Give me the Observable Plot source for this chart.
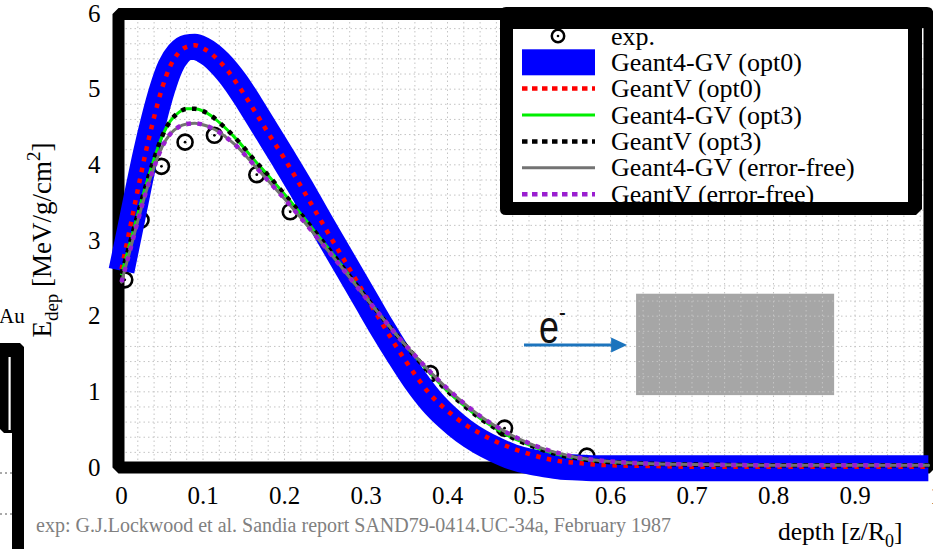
<!DOCTYPE html>
<html><head><meta charset="utf-8">
<script src="https://cdn.jsdelivr.net/npm/d3@7"></script>
<script src="https://cdn.jsdelivr.net/npm/@observablehq/plot@0.6"></script>
<style>
html,body{margin:0;padding:0;background:#fff;}
#chart{position:relative;width:933px;height:549px;overflow:hidden;}
</style></head><body><div id="chart"></div>
<script>
// ---- data ----
const depth = [0,0.01,0.02,0.03,0.04,0.05,0.06,0.07,0.08,0.09,0.10,0.11,0.12,0.13,0.14,0.15,0.16,0.18,0.20,0.22,0.24,0.26,0.28,0.30,0.32,0.34,0.36,0.38,0.40,0.42,0.44,0.46,0.48,0.50,0.52,0.54,0.56,0.58,0.60,0.65,0.70,0.80,0.90,0.99];
const g4gvOpt0 = [2.60,3.12,3.65,4.16,4.61,5.00,5.30,5.47,5.55,5.56,5.52,5.45,5.35,5.23,5.09,4.93,4.76,4.41,4.06,3.70,3.32,2.95,2.58,2.21,1.84,1.49,1.16,0.88,0.66,0.48,0.34,0.23,0.14,0.08,0.04,0.01,0.00,-0.01,-0.01,-0.01,-0.01,-0.01,-0.01,-0.01];
const gvOpt0   = [2.62,3.14,3.67,4.18,4.63,5.02,5.31,5.48,5.56,5.58,5.54,5.47,5.37,5.25,5.10,4.94,4.77,4.42,4.08,3.72,3.35,2.98,2.62,2.26,1.90,1.55,1.23,0.95,0.75,0.58,0.45,0.34,0.25,0.18,0.12,0.08,0.06,0.04,0.03,0.02,0.01,0.01,0.01,0.01];
const g4gvOpt3 = [2.56,2.95,3.35,3.73,4.08,4.38,4.58,4.69,4.74,4.74,4.71,4.65,4.56,4.46,4.35,4.23,4.10,3.86,3.61,3.35,3.08,2.81,2.53,2.25,1.98,1.72,1.47,1.23,1.01,0.82,0.65,0.51,0.39,0.30,0.22,0.16,0.12,0.09,0.07,0.05,0.04,0.03,0.03,0.03];
const gvOpt3   = [2.56,2.95,3.35,3.73,4.08,4.38,4.58,4.69,4.74,4.74,4.71,4.65,4.56,4.46,4.35,4.23,4.10,3.86,3.61,3.35,3.08,2.81,2.53,2.25,1.98,1.72,1.47,1.23,1.01,0.82,0.65,0.51,0.39,0.30,0.22,0.16,0.12,0.09,0.07,0.05,0.04,0.03,0.03,0.03];
const g4gvErrFree = [2.45,2.85,3.26,3.64,3.97,4.24,4.41,4.50,4.54,4.55,4.53,4.49,4.43,4.35,4.26,4.15,4.03,3.79,3.55,3.30,3.04,2.78,2.51,2.24,1.98,1.72,1.48,1.25,1.04,0.85,0.68,0.54,0.42,0.32,0.24,0.18,0.13,0.10,0.08,0.05,0.04,0.03,0.03,0.03];
const gvErrFree   = [2.45,2.85,3.26,3.64,3.97,4.24,4.41,4.50,4.54,4.55,4.53,4.49,4.43,4.35,4.26,4.15,4.03,3.79,3.55,3.30,3.04,2.78,2.51,2.24,1.98,1.72,1.48,1.25,1.04,0.85,0.68,0.54,0.42,0.32,0.24,0.18,0.13,0.10,0.08,0.05,0.04,0.03,0.03,0.03];
const expDepth = [0.004,0.024,0.049,0.078,0.114,0.166,0.207,0.379,0.470,0.571];
const expEdep  = [2.48,3.27,3.98,4.30,4.39,3.87,3.38,1.24,0.52,0.15];
const xTicks = [0,0.1,0.2,0.3,0.4,0.5,0.6,0.7,0.8,0.9,1];
const yTicks = [0,1,2,3,4,5,6];
const legendLabels = ["exp.","Geant4-GV (opt0)","GeantV (opt0)","Geant4-GV (opt3)","GeantV (opt3)","Geant4-GV (error-free)","GeantV (error-free)"];
const captionText = "exp: G.J.Lockwood et al. Sandia report SAND79-0414.UC-34a, February 1987";
// annotation (sketch of the target and the incoming electron), in data units
const targetBox = [{x1:0.632, x2:0.875, y1:0.95, y2:2.29}];
const beamArrow = {x1:0.4945, x2:0.621, y:1.612};
const beamLabel = {x:0.5129, y:1.64};

// ---- tables ----
const toRows = ys => depth.map((d,i)=>({depth:d, edep:ys[i]}));
const expRows = expDepth.map((d,i)=>({depth:d, edep:expEdep[i]}));
const gridX = d3.range(51).map(i=>i/50);
const gridY = d3.range(31).map(i=>i/5);

const styles = {
  blue:  {stroke:"#0000ff", strokeWidth:26, strokeLinecap:"butt"},
  red:   {stroke:"#ff0000", strokeWidth:4.5, strokeDasharray:"4.5,6.5", strokeLinecap:"butt"},
  green: {stroke:"#00ee00", strokeWidth:3},
  black: {stroke:"#000000", strokeWidth:4.5, strokeDasharray:"4.5,6.5", strokeLinecap:"butt"},
  gray:  {stroke:"#737373", strokeWidth:3},
  purple:{stroke:"#9a1fd0", strokeWidth:4.5, strokeDasharray:"4.5,6.5", strokeLinecap:"butt"}
};
const line = (ys, st) => Plot.line(toRows(ys), {x:"depth", y:"edep", curve:"monotone-x", strokeLinejoin:"round", ...st});
const serif = "'Liberation Serif', 'Times New Roman', serif";

const chart = Plot.plot({
  width: 933, height: 549,
  marginLeft: 121, marginRight: -3, marginTop: 13, marginBottom: 82,
  style: {fontFamily: serif, fontSize: "25px", color: "black", background: "white"},
  x: {domain:[0,1], ticks:xTicks, tickFormat:d=>String(+d.toFixed(1)), tickSize:0, tickPadding:19, label:null},
  y: {domain:[0,6], ticks:yTicks, tickFormat:d=>String(d), tickSize:0, tickPadding:21, label:null},
  marks: [
    Plot.rect(targetBox, {x1:"x1", x2:"x2", y1:"y1", y2:"y2", fill:"#a6a6a6"}),
    Plot.ruleX(gridX, {stroke:"#c4c4c4", strokeWidth:1, strokeDasharray:"1.5,3"}),
    Plot.ruleY(gridY, {stroke:"#c4c4c4", strokeWidth:1, strokeDasharray:"1.5,3"}),
    Plot.frame({stroke:"black", strokeWidth:12, strokeLinejoin:"bevel", insetLeft:-3, insetRight:7, insetTop:0.5}),
    Plot.dot(expRows, {x:"depth", y:"edep", r:7.5, stroke:"black", strokeWidth:2.6, fill:"none"}),
    Plot.dot(expRows, {x:"depth", y:"edep", r:1.4, fill:"black"}),
    line(g4gvOpt0, styles.blue),
    line(gvOpt0, styles.red),
    line(g4gvOpt3, styles.green),
    line(gvOpt3, styles.black),
    line(g4gvErrFree, styles.gray),
    line(gvErrFree, styles.purple)
  ]
});
document.getElementById("chart").appendChild(chart);

// ---- annotations / labels ----
const svg = d3.select(chart);
const sx = chart.scale("x"), sy = chart.scale("y");
const fx = d3.scaleLinear(sx.domain, sx.range), fy = d3.scaleLinear(sy.domain, sy.range);
const txt = (sel) => sel.append("text").attr("text-anchor","start").attr("font-family",serif).attr("fill","black");

// beam arrow
const ax1 = fx(beamArrow.x1), ax2 = fx(beamArrow.x2), ay = fy(beamArrow.y);
svg.append("line").attr("x1",ax1).attr("x2",ax2-12).attr("y1",ay).attr("y2",ay).attr("stroke","#1c74bd").attr("stroke-width",3);
svg.append("path").attr("d",`M${ax2},${ay} L${ax2-16},${ay-7.5} L${ax2-16},${ay+7.5} Z`).attr("fill","#1c74bd");
const eT = txt(svg).attr("transform",`translate(${fx(beamLabel.x)},${fy(beamLabel.y)}) scale(0.78,1)`)
  .attr("font-family","'Liberation Sans', Arial, sans-serif").attr("font-size",46).attr("fill","#111");
eT.append("tspan").text("e");
eT.append("tspan").attr("font-size",26).attr("dy",-22).text("-");

// y label
const yl = svg.append("text").attr("transform","translate(51,240) rotate(-90)").attr("text-anchor","middle")
  .attr("font-family",serif).attr("font-size",27).attr("fill","black");
yl.append("tspan").text("E");
yl.append("tspan").attr("font-size",19).attr("dy",7).text("dep");
yl.append("tspan").attr("dy",-7).text(" [MeV/g/cm");
yl.append("tspan").attr("font-size",19).attr("dy",-11).text("2");
yl.append("tspan").attr("dy",11).text("]");

// x label
const xl = txt(svg).attr("x",778).attr("y",540).attr("font-size",25.5);
xl.append("tspan").text("depth [z/R");
xl.append("tspan").attr("font-size",18).attr("dy",7).text("0");
xl.append("tspan").attr("dy",-7).text("]");

// caption
txt(svg).attr("x",36).attr("y",532).attr("font-size",20).attr("fill","#808080").text(captionText);

// "Au" and left artifact
txt(svg).attr("x",-1).attr("y",323).attr("font-size",21).text("Au");
svg.append("path").attr("d","M0,343 H20 L24,347 V549 H12 V433 H4 L0,429 Z").attr("fill","black");
svg.append("rect").attr("x",8.5).attr("y",357).attr("width",2.5).attr("height",73).attr("fill","white");
svg.append("line").attr("x1",10.5).attr("x2",10.5).attr("y1",357).attr("y2",430).attr("stroke","#999").attr("stroke-width",0.8);
[473,514].forEach(y=>svg.append("line").attr("x1",0).attr("x2",12).attr("y1",y).attr("y2",y).attr("stroke","#555").attr("stroke-dasharray","2,3"));

// legend
const L = svg.append("g");
L.append("path").attr("d","M506,7 H927 Q933,7 933,13 V28 H922 V209 L916,215 H506 Q500,215 500,209 V13 Q500,7 506,7 Z").attr("fill","black");
L.append("rect").attr("x",513).attr("y",29).attr("width",395).attr("height",173).attr("fill","white");
const clip = svg.append("defs").append("clipPath").attr("id","legclip");
clip.append("rect").attr("x",513).attr("y",29).attr("width",395).attr("height",173);
const LI = L.append("g").attr("clip-path","url(#legclip)");
const rowY = [36, 62.3, 88.6, 115, 141.4, 167.8, 194.2];
const legendStyles = [null, styles.blue, styles.red, styles.green, styles.black, styles.gray, styles.purple];
legendLabels.forEach((lab,i)=>{
  const y = rowY[i];
  if (i===0) {
    LI.append("circle").attr("cx",558).attr("cy",y).attr("r",6.2).attr("fill","none").attr("stroke","black").attr("stroke-width",2.5);
    LI.append("circle").attr("cx",558).attr("cy",y).attr("r",1.3).attr("fill","black");
  } else if (i===1) {
    LI.append("rect").attr("x",522).attr("y",y-13).attr("width",73).attr("height",26).attr("fill",styles.blue.stroke);
  } else {
    const st = legendStyles[i];
    LI.append("line").attr("x1",522).attr("x2",595).attr("y1",y).attr("y2",y)
      .attr("stroke",st.stroke).attr("stroke-width",Math.min(st.strokeWidth,4.5))
      .attr("stroke-dasharray", st.strokeDasharray ? "5.5,4.5" : null);
  }
  txt(LI).attr("x",611).attr("y",y+8.5).attr("font-size",26).text(lab);
});
</script></body></html>
